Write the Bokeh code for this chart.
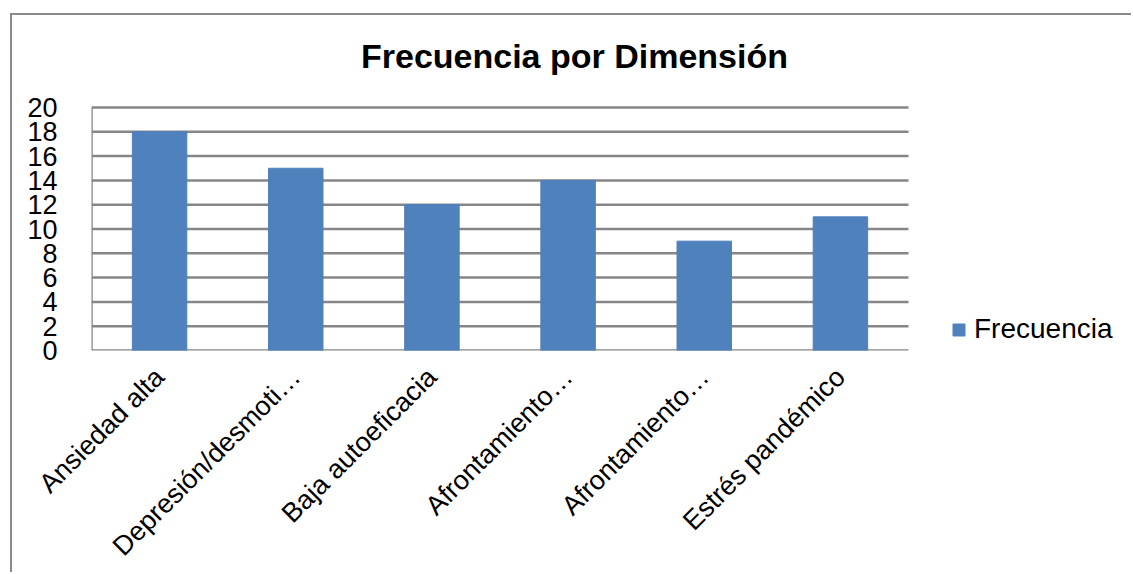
from bokeh.plotting import figure
from bokeh.models import FixedTicker, Range1d, Legend, LegendItem, Label
from bokeh.embed import file_html
from bokeh.resources import INLINE
import math

# ---- data ----
categories = ["Ansiedad alta", "Depresión/desmoti…", "Baja autoeficacia",
              "Afrontamiento…", "Afrontamiento…", "Estrés pandémico"]
frecuencia = [18, 15, 12, 14, 9, 11]
y_ticks = list(range(0, 21, 2))
title_text = "Frecuencia por Dimensión"
series_name = "Frecuencia"

positions = list(range(len(categories)))
n = len(categories)
y_max = y_ticks[-1]

FONT = "Liberation Sans"
GRID = "#868686"
BAR = "#4F81BD"

# The value area is 817x243 px; the frame extends right (legend) and up (title).
x_end = -0.5 + n * 1042 / 817
y_end = y_max * 335 / 243

p = figure(width=1121, height=559, output_backend="svg", toolbar_location=None,
           x_range=Range1d(-0.5, x_end), y_range=Range1d(0, y_end),
           min_border_left=79, min_border_top=0, min_border_right=0,
           min_border_bottom=224)
p.margin = (13, 0, 0, 10)
p.styles = {"border-left": "2px solid #8a8a8a", "border-top": "2px solid #8a8a8a"}
p.outline_line_color = None
p.background_fill_color = "white"
p.border_fill_color = "white"

# horizontal gridlines and the value axis line, only across the value area
p.segment(x0=[-0.5] * len(y_ticks), x1=[n - 0.5] * len(y_ticks), y0=y_ticks, y1=y_ticks,
          line_color=GRID, line_width=2.5)
p.segment(x0=[-0.5], x1=[-0.5], y0=[0], y1=[y_max], line_color=GRID, line_width=2.5)

r = p.vbar(x=positions, top=frecuencia, width=0.40, color=BAR)

# axes
p.xaxis.ticker = FixedTicker(ticks=positions)
p.xaxis.major_label_overrides = {i: c for i, c in enumerate(categories)}
p.xaxis.major_label_orientation = math.pi / 4
p.xaxis.major_label_text_font = FONT
p.xaxis.major_label_text_font_size = "27px"
p.xaxis.major_label_text_color = "black"
p.xaxis.major_tick_line_color = None
p.xaxis.minor_tick_line_color = None
p.xaxis.major_label_standoff = 16
p.xaxis.axis_line_color = None

p.yaxis.ticker = FixedTicker(ticks=y_ticks)
p.yaxis.major_label_text_font = FONT
p.yaxis.major_label_text_font_size = "27px"
p.yaxis.major_label_text_color = "black"
p.yaxis.major_tick_line_color = None
p.yaxis.minor_tick_line_color = None
p.yaxis.major_label_standoff = 28
p.yaxis.axis_line_color = None

p.xgrid.grid_line_color = None
p.ygrid.grid_line_color = None

# legend
lg = Legend(items=[LegendItem(label=series_name, renderers=[r])], location=(860, 5))
lg.glyph_width = 15
lg.glyph_height = 15
lg.label_standoff = 8
lg.padding = 0
lg.margin = 0
lg.border_line_color = None
lg.background_fill_alpha = 0
lg.label_text_font = FONT
lg.label_text_font_size = "28px"
lg.label_text_color = "black"
p.add_layout(lg, "center")

# title
p.add_layout(Label(x=483, y=295, x_units="screen", y_units="screen", text=title_text,
                   text_font=FONT, text_font_size="34px", text_font_style="bold",
                   text_align="center", text_baseline="middle", text_color="black"))

open("out.html", "w").write(file_html(p, INLINE))
